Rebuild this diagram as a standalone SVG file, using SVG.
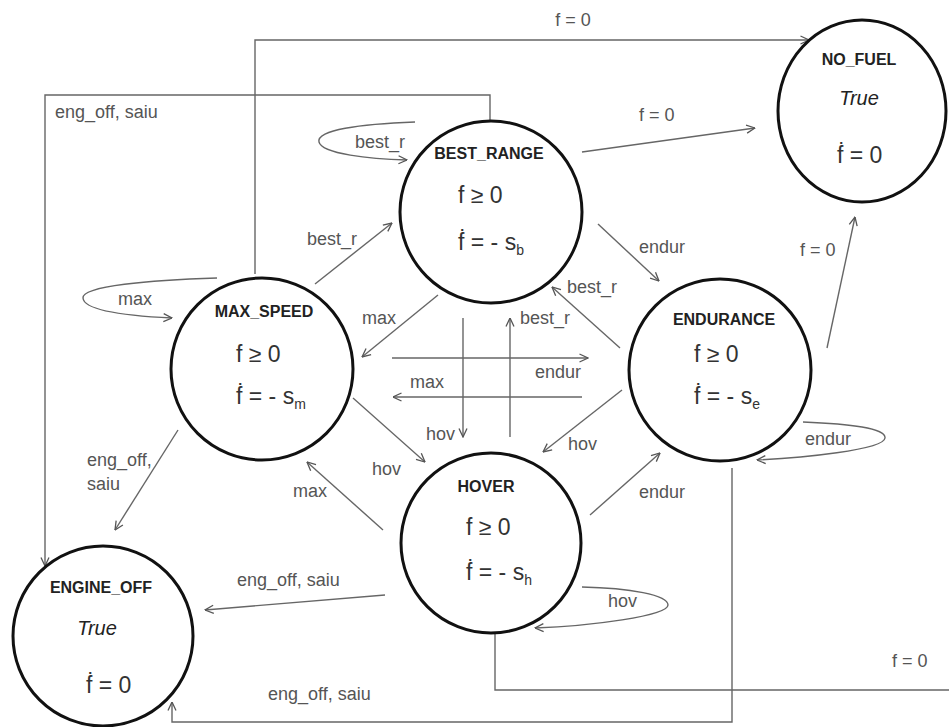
<svg xmlns="http://www.w3.org/2000/svg" width="949" height="727" viewBox="0 0 949 727">
<style>
.node{fill:#fff;stroke:#111;stroke-width:3}
.title{font-family:"Liberation Sans",Arial,sans-serif;font-weight:bold;font-size:16px;fill:#222;text-anchor:middle}
.eq{font-family:"Liberation Sans",Arial,sans-serif;font-size:23px;fill:#333}
.tr{font-family:"Liberation Sans",Arial,sans-serif;font-style:italic;font-size:20px;fill:#222;text-anchor:middle}
.sub{font-size:14px}
.lbl{font-family:"Liberation Sans",Arial,sans-serif;font-size:18px;fill:#555}
.c{fill:none;stroke:#666;stroke-width:1.4}
.a{marker-end:url(#arr)}
</style>
<defs>
<marker id="arr" viewBox="0 0 10 10" refX="9.5" refY="5" markerWidth="10" markerHeight="10" markerUnits="userSpaceOnUse" orient="auto">
<path d="M1,1 L9.5,5 L1,9" fill="none" stroke="#555" stroke-width="1.3"/>
</marker>
</defs>
<rect width="949" height="727" fill="#fff"/>
<g id="connectors">
<path class="c a" d="M255,274 L255,40 L809,40"/>
<text class="lbl" x="573" y="26" text-anchor="middle">f = 0</text>
<path class="c a" d="M490,122 L490,95 L45,95 L45,566"/>
<text class="lbl" x="55" y="118">eng_off, saiu</text>
<path class="c a" d="M415,122 C360,124 316,130 319,142 C322,154 370,159 407,160"/>
<text class="lbl" x="355" y="148">best_r</text>
<path class="c a" d="M582,152 L755,128"/>
<text class="lbl" x="639" y="121">f = 0</text>
<path class="c a" d="M315,284 L392,223"/>
<text class="lbl" x="307" y="245">best_r</text>
<path class="c a" d="M598,224 L659,281"/>
<text class="lbl" x="639" y="253">endur</text>
<path class="c a" d="M827,348 L855,217"/>
<text class="lbl" x="800" y="256">f = 0</text>
<path class="c a" d="M217,278 C150,280 82,286 83,298 C84,311 130,316 172,318"/>
<text class="lbl" x="118" y="305">max</text>
<path class="c a" d="M438,295 L362,357"/>
<text class="lbl" x="362" y="324">max</text>
<path class="c a" d="M620,348 L552,287"/>
<text class="lbl" x="567" y="293">best_r</text>
<path class="c a" d="M510,437 L510,318"/>
<text class="lbl" x="520" y="324">best_r</text>
<path class="c a" d="M463,318 L463,437"/>
<text class="lbl" x="426" y="440">hov</text>
<path class="c a" d="M392,358 L588,358"/>
<text class="lbl" x="535" y="378">endur</text>
<path class="c a" d="M582,397 L393,397"/>
<text class="lbl" x="410" y="388">max</text>
<path class="c a" d="M622,390 L543,452"/>
<text class="lbl" x="568" y="450">hov</text>
<path class="c a" d="M803,422 C850,424 886,428 885,438 C884,450 800,458 757,460"/>
<text class="lbl" x="805" y="445">endur</text>
<path class="c a" d="M178,430 L115,530"/>
<text class="lbl" x="87" y="466">eng_off,</text>
<text class="lbl" x="87" y="490">saiu</text>
<path class="c a" d="M353,398 L425,462"/>
<text class="lbl" x="372" y="475">hov</text>
<path class="c a" d="M383,530 L307,462"/>
<text class="lbl" x="293" y="497">max</text>
<path class="c a" d="M590,515 L660,453"/>
<text class="lbl" x="639" y="498">endur</text>
<path class="c a" d="M385,595 L205,610"/>
<text class="lbl" x="237" y="586">eng_off, saiu</text>
<path class="c a" d="M582,587 C630,588 668,595 668,605 C668,616 590,626 535,628"/>
<text class="lbl" x="608" y="607">hov</text>
<path class="c" d="M495,633 L495,690 L949,690"/>
<text class="lbl" x="892" y="667">f = 0</text>
<path class="c a" d="M732,468 L732,722 L172,722 L172,702"/>
<text class="lbl" x="268" y="700">eng_off, saiu</text>
</g>
<g id="BEST_RANGE">
<circle class="node" cx="491" cy="212" r="91"/>
<text class="title" x="489" y="159">BEST_RANGE</text>
<text class="eq" x="458" y="203">f ≥ 0</text>
<text class="eq" x="458" y="250">ḟ = - s<tspan class="sub" dy="5">b</tspan></text>
</g>
<g id="MAX_SPEED">
<circle class="node" cx="262" cy="369" r="91"/>
<text class="title" x="264" y="317">MAX_SPEED</text>
<text class="eq" x="236" y="362">f ≥ 0</text>
<text class="eq" x="236" y="404">ḟ = - s<tspan class="sub" dy="5">m</tspan></text>
</g>
<g id="ENDURANCE">
<circle class="node" cx="720" cy="370" r="91"/>
<text class="title" x="724" y="325">ENDURANCE</text>
<text class="eq" x="694" y="362">f ≥ 0</text>
<text class="eq" x="694" y="404">ḟ = - s<tspan class="sub" dy="5">e</tspan></text>
</g>
<g id="HOVER">
<circle class="node" cx="491" cy="543" r="90"/>
<text class="title" x="486" y="492">HOVER</text>
<text class="eq" x="466" y="535">f ≥ 0</text>
<text class="eq" x="466" y="580">ḟ = - s<tspan class="sub" dy="5">h</tspan></text>
</g>
<g id="ENGINE_OFF">
<circle class="node" cx="103" cy="636" r="90"/>
<text class="title" x="101" y="593">ENGINE_OFF</text>
<text class="tr" x="97" y="635">True</text>
<text class="eq" x="86" y="693">ḟ = 0</text>
</g>
<g id="NO_FUEL">
<ellipse class="node" cx="862" cy="111" rx="84" ry="91"/>
<text class="title" x="859" y="65">NO_FUEL</text>
<text class="tr" x="859" y="105">True</text>
<text class="eq" x="837" y="163">ḟ = 0</text>
</g>
</svg>
